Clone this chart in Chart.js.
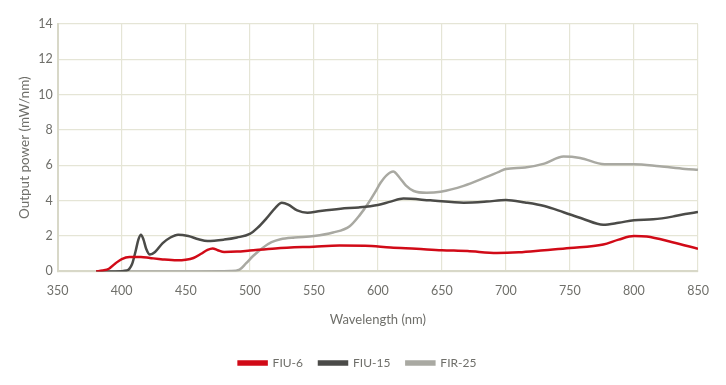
<!DOCTYPE html>
<html>
<head>
<meta charset="utf-8">
<script src="https://cdn.jsdelivr.net/npm/chart.js@4/dist/chart.umd.min.js"></script>
<style>
  html, body { margin: 0; padding: 0; background: #fff; }
  #wrap { width: 726px; height: 385px; }
</style>
</head>
<body>
<div id="wrap"><canvas id="spectra" width="726" height="385"></canvas></div>
<script>
// values
const seriesNames = ["FIU-6", "FIU-15", "FIR-25"];

const fiu6Wavelength = [380, 385, 390, 395, 400, 406, 415, 422, 432, 443, 450, 456, 462, 467, 471, 475, 480, 490, 500, 520, 550, 570, 590, 610, 630, 650, 670, 693, 710, 730, 750, 776, 788, 800, 810, 830, 850];
const fiu6Power = [0, 0.05, 0.15, 0.45, 0.7, 0.82, 0.82, 0.76, 0.68, 0.63, 0.66, 0.76, 1.0, 1.22, 1.3, 1.2, 1.1, 1.12, 1.18, 1.3, 1.4, 1.46, 1.45, 1.35, 1.28, 1.2, 1.15, 1.04, 1.08, 1.2, 1.32, 1.52, 1.8, 2.0, 1.97, 1.65, 1.28];

const fiu15Wavelength = [380, 395, 404, 408, 411, 413, 415, 417, 419, 422, 426, 432, 438, 444, 452, 460, 467, 480, 490, 500, 506, 513, 520, 525, 530, 537, 545, 555, 571, 585, 600, 610, 620, 641, 667, 685, 700, 715, 730, 745, 760, 776, 788, 800, 815, 830, 840, 850];
const fiu15Power = [0, 0, 0.05, 0.4, 1.2, 1.8, 2.08, 1.8, 1.3, 0.95, 1.1, 1.6, 1.92, 2.08, 2.0, 1.82, 1.72, 1.8, 1.92, 2.12, 2.46, 3.0, 3.6, 3.88, 3.78, 3.45, 3.32, 3.42, 3.55, 3.62, 3.76, 3.95, 4.12, 4.02, 3.89, 3.95, 4.04, 3.9, 3.7, 3.35, 2.98, 2.64, 2.75, 2.9, 2.95, 3.1, 3.25, 3.36];

const fir25Wavelength = [380, 420, 460, 485, 492, 497, 503, 510, 517, 524, 535, 550, 565, 578, 586, 592, 598, 602, 607, 612, 617, 622, 628, 638, 649, 667, 685, 695, 700, 715, 730, 745, 758, 777, 800, 820, 840, 850];
const fir25Power = [0, 0, 0, 0.02, 0.1, 0.45, 0.9, 1.33, 1.65, 1.82, 1.92, 2.0, 2.2, 2.56, 3.2, 3.8, 4.5, 5.0, 5.45, 5.65, 5.3, 4.85, 4.55, 4.45, 4.51, 4.84, 5.35, 5.65, 5.79, 5.88, 6.1, 6.5, 6.42, 6.07, 6.07, 5.95, 5.8, 5.75];

const xTickValues = [350, 400, 450, 500, 550, 600, 650, 700, 750, 800, 850];
const yTickValues = [0, 2, 4, 6, 8, 10, 12, 14];

const seriesColors = ["#d10a17", "#4b4b48", "#a9a9a2"];

function toPoints(xs, ys) {
  return xs.map((x, i) => ({ x: x, y: ys[i] }));
}

const ctx = document.getElementById("spectra");
const fontFamily = "Lato, 'Open Sans', sans-serif";

new Chart(ctx, {
  type: "line",
  data: {
    datasets: [
      { label: seriesNames[0], data: toPoints(fiu6Wavelength, fiu6Power) },
      { label: seriesNames[1], data: toPoints(fiu15Wavelength, fiu15Power) },
      { label: seriesNames[2], data: toPoints(fir25Wavelength, fir25Power) },
    ].map((ds, i) => Object.assign(ds, {
      borderColor: seriesColors[i],
      backgroundColor: seriesColors[i],
      borderWidth: 2.5,
      pointRadius: 0,
      cubicInterpolationMode: "monotone",
      fill: false,
    })),
  },
  options: {
    responsive: false,
    animation: false,
    layout: { padding: { top: 24, right: 28, left: 17, bottom: 6 } },
    scales: {
      x: {
        type: "linear",
        min: 350,
        max: 850,
        afterBuildTicks: (axis) => { axis.ticks = xTickValues.map(v => ({ value: v })); },
        grid: { color: "#e5e5d6", lineWidth: 1.2, drawTicks: false },
        border: { color: "#d8d8c8", width: 2 },
        ticks: { color: "#6f6f6a", font: { family: fontFamily, size: 12.5 }, padding: 12 },
        title: {
          display: true,
          text: "Wavelength (nm)",
          color: "#6f6f6a",
          font: { family: fontFamily, size: 13 },
          padding: { top: 2, bottom: 13 },
        },
      },
      y: {
        min: 0,
        max: 14,
        afterBuildTicks: (axis) => { axis.ticks = yTickValues.map(v => ({ value: v })); },
        grid: { color: "#e5e5d6", lineWidth: 1.2, drawTicks: false },
        border: { color: "#d8d8c8", width: 2 },
        ticks: { color: "#6f6f6a", font: { family: fontFamily, size: 12.5 }, padding: 5 },
        title: {
          display: true,
          text: "Output power (mW/nm)",
          color: "#6f6f6a",
          font: { family: fontFamily, size: 13.5 },
          padding: { top: 0, bottom: 0 },
        },
      },
    },
    plugins: {
      legend: {
        position: "bottom",
        labels: {
          color: "#6f6f6a",
          font: { family: fontFamily, size: 12 },
          boxWidth: 28,
          boxHeight: 3,
          padding: 16,
        },
      },
      tooltip: { enabled: false },
    },
  },
});
</script>
</body>
</html>
